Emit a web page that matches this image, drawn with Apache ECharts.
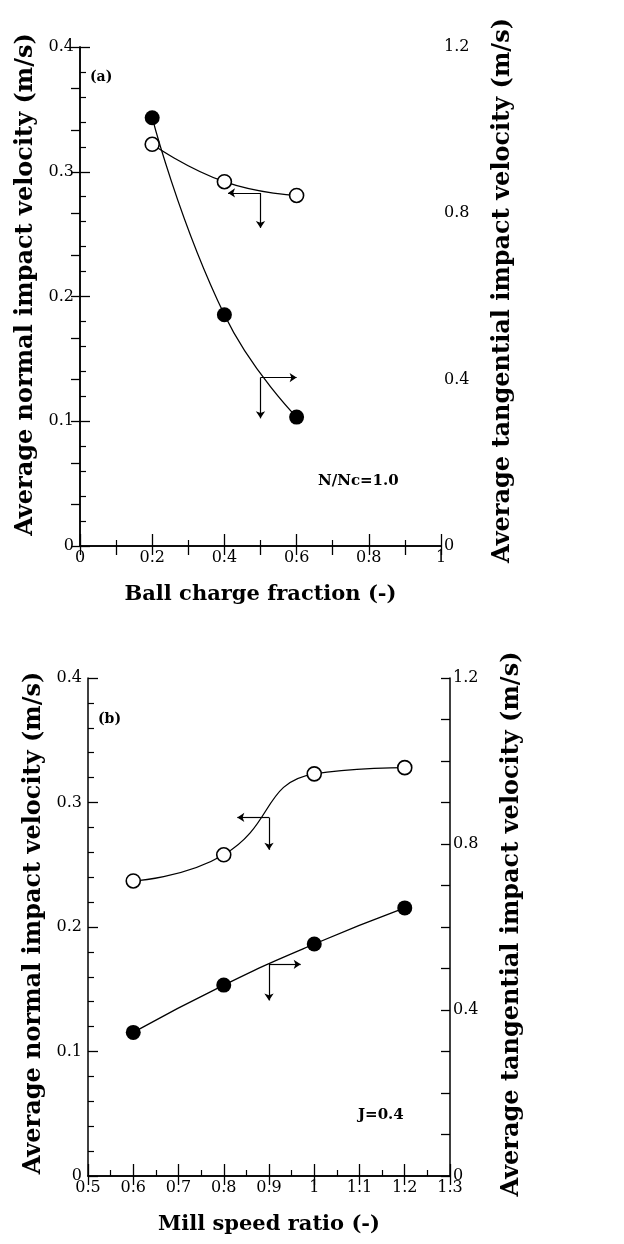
<!DOCTYPE html>
<html>
<head>
<meta charset="utf-8">
<script src="https://cdn.jsdelivr.net/npm/echarts@6/dist/echarts.min.js"></script>
<style>
  html, body { margin: 0; padding: 0; background: #fff; }
  #chart { width: 624px; height: 1244px; }
</style>
</head>
<body>
<div id="chart"></div>
<script>
// panel (a): ball charge fraction
const aX = [0.2, 0.4, 0.6]
const aNormal = [0.322, 0.292, 0.281]       // open circles, left axis
const aTangential = [1.03, 0.556, 0.31]     // filled circles, right axis
// panel (b): mill speed ratio
const bX = [0.6, 0.8, 1.0, 1.2]
const bNormal = [0.237, 0.258, 0.323, 0.328]
const bTangential = [0.346, 0.46, 0.559, 0.646]

// arrows pointing to the axis each curve belongs to
const aNormalArrowH = [[0.5, 0.283], [0.41, 0.283]]
const aNormalArrowV = [[0.5, 0.283], [0.5, 0.255]]
const aTangArrowH = [[0.5, 0.405], [0.6, 0.405]]
const aTangArrowV = [[0.5, 0.405], [0.5, 0.307]]
const bNormalArrowH = [[0.9, 0.288], [0.83, 0.288]]
const bNormalArrowV = [[0.9, 0.288], [0.9, 0.262]]
const bTangArrowH = [[0.9, 0.51], [0.97, 0.51]]
const bTangArrowV = [[0.9, 0.51], [0.9, 0.423]]

const leftTitle = 'Average normal impact velocity (m/s)'
const rightTitle = 'Average tangential impact velocity (m/s)'
const aXTitle = 'Ball charge fraction (-)'
const bXTitle = 'Mill speed ratio (-)'

const serif = 'DejaVu Serif'
const lineCol = '#000'

function zip(xs, ys) {
  return xs.map((x, i) => [x, ys[i]])
}

function arrowLine(h, v) {
  return {
    silent: true,
    symbol: ['none', 'arrow'],
    symbolSize: 7,
    label: { show: false },
    lineStyle: { color: lineCol, width: 1.2, type: 'solid' },
    data: [
      [{ coord: h[0] }, { coord: h[1] }],
      [{ coord: v[0] }, { coord: v[1] }]
    ]
  }
}

const axisLine = { show: true, lineStyle: { color: lineCol, width: 1.5 } }
const tickLabel = { color: '#000', fontFamily: serif, fontSize: 16 }
const xTitleStyle = { color: '#000', fontFamily: serif, fontWeight: 'bold', fontSize: 21 }
const yTitleStyle = { color: '#000', fontFamily: serif, fontWeight: 'bold', fontSize: 24 }

function xAxisBottom(grid, min, max, interval, name) {
  return {
    type: 'value', gridIndex: grid, position: 'bottom', min, max, interval,
    axisLine,
    axisTick: { inside: true, length: 12, lineStyle: { color: lineCol, width: 1.3 } },
    minorTick: { show: true, splitNumber: 2, length: 6, lineStyle: { color: lineCol, width: 1.2 } },
    axisLabel: { ...tickLabel, margin: 4, interval: 0, showMinLabel: true, showMaxLabel: true },
    splitLine: { show: false },
    name, nameLocation: 'middle', nameGap: 38, nameTextStyle: xTitleStyle
  }
}

function xAxisTop(grid, min, max, interval) {
  return {
    type: 'value', gridIndex: grid, position: 'top', min, max, interval,
    axisLine,
    axisTick: { inside: true, length: 9, lineStyle: { color: lineCol, width: 1.3 } },
    axisLabel: { show: false },
    splitLine: { show: false }
  }
}

// shiftUp nudges the rotated title towards the top of the plot
function yLeft(grid, shiftUp) {
  return {
    type: 'value', gridIndex: grid, position: 'left', min: 0, max: 0.4, interval: 0.1,
    axisLine,
    axisTick: { inside: true, length: 10, lineStyle: { color: lineCol, width: 1.3 } },
    minorTick: { show: true, splitNumber: 5, length: 6, lineStyle: { color: lineCol, width: 1.2 } },
    axisLabel: { ...tickLabel, margin: 6 },
    splitLine: { show: false },
    name: leftTitle, nameLocation: 'middle', nameRotate: 90, nameGap: 42,
    nameTextStyle: { ...yTitleStyle, padding: [0, 0, 0, shiftUp * 2] }
  }
}

function yRight(grid, shiftUp) {
  return {
    type: 'value', gridIndex: grid, position: 'right', min: 0, max: 1.2, interval: 0.4,
    axisLine,
    axisTick: { inside: true, length: 9, lineStyle: { color: lineCol, width: 1.3 } },
    minorTick: { show: true, splitNumber: 4, length: 9, lineStyle: { color: lineCol, width: 1.3 } },
    axisLabel: { ...tickLabel, margin: 3 },
    splitLine: { show: false },
    name: rightTitle, nameLocation: 'middle', nameRotate: 90, nameGap: 50,
    nameTextStyle: { ...yTitleStyle, padding: [0, 0, 0, shiftUp * 2] }
  }
}

function curve(name, xi, yi, data, filled, arrow) {
  return {
    name, type: 'line', xAxisIndex: xi, yAxisIndex: yi,
    data, smooth: 0.5,
    symbol: 'circle', symbolSize: filled ? 15 : 14,
    lineStyle: { color: lineCol, width: 1.3 },
    itemStyle: filled
      ? { color: '#000', borderColor: '#000', borderWidth: 0 }
      : { color: '#fff', borderColor: '#000', borderWidth: 1.6 },
    emphasis: { disabled: true },
    markLine: arrow
  }
}

const chart = echarts.init(document.getElementById('chart'))

chart.setOption({
  backgroundColor: '#fff',
  animation: false,
  grid: [
    { left: 80, top: 47, width: 361, height: 499, containLabel: false, outerBoundsMode: 'none' },
    { left: 88, top: 678, width: 362, height: 498, containLabel: false, outerBoundsMode: 'none' }
  ],
  xAxis: [
    xAxisBottom(0, 0, 1, 0.2, aXTitle),
    xAxisTop(0, 0, 1, 0.1),
    xAxisBottom(1, 0.5, 1.3, 0.1, bXTitle),
    xAxisTop(1, 0.5, 1.3, 0.1)
  ],
  yAxis: [yLeft(0, 12), yRight(0, 6), yLeft(1, 4), yRight(1, 3)],
  series: [
    curve('a normal', 0, 0, zip(aX, aNormal), false, arrowLine(aNormalArrowH, aNormalArrowV)),
    curve('a tangential', 0, 1, zip(aX, aTangential), true, arrowLine(aTangArrowH, aTangArrowV)),
    curve('b normal', 2, 2, zip(bX, bNormal), false, arrowLine(bNormalArrowH, bNormalArrowV)),
    curve('b tangential', 2, 3, zip(bX, bTangential), true, arrowLine(bTangArrowH, bTangArrowV))
  ],
  graphic: [
    { type: 'text', left: 90, top: 70, style: { text: '(a)', font: 'bold 14px "DejaVu Serif"', fill: '#000' } },
    { type: 'text', left: 98, top: 712, style: { text: '(b)', font: 'bold 14px "DejaVu Serif"', fill: '#000' } },
    { type: 'text', left: 318, top: 474, style: { text: 'N/Nc=1.0', font: 'bold 15px "DejaVu Serif"', fill: '#000' } },
    { type: 'text', left: 358, top: 1108, style: { text: 'J=0.4', font: 'bold 15px "DejaVu Serif"', fill: '#000' } }
  ]
})
</script>
</body>
</html>
